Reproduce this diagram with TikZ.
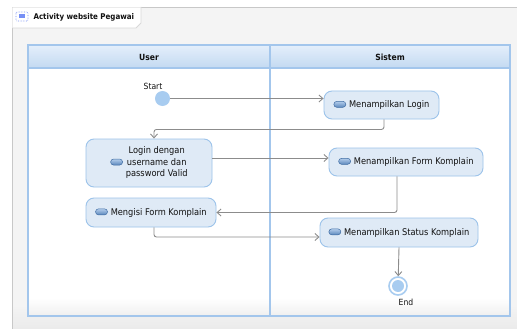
\documentclass[tikz,border=0pt]{standalone}
\usepackage{fontspec}
\setmainfont{DejaVu Sans Condensed}
\usetikzlibrary{arrows.meta,calc}
\definecolor{nodefill}{HTML}{DFEAF6}
\definecolor{nodeborder}{HTML}{9CC3EA}
\definecolor{lane}{HTML}{A3C6EC}
\definecolor{hdtop}{HTML}{E4EFFB}
\definecolor{hdbot}{HTML}{C3D9F1}
\definecolor{framegray}{HTML}{F4F4F4}
\definecolor{frameline}{HTML}{C8C8C8}
\definecolor{flowgray}{HTML}{8C8C8C}
\definecolor{startblue}{HTML}{A8CCF0}
\definecolor{icontop}{HTML}{B3CDEB}
\definecolor{iconbot}{HTML}{5A86BC}
\definecolor{iconline}{HTML}{3F6CA3}
\definecolor{txt}{HTML}{111111}
\newcommand{\acticon}{\tikz[baseline={(0pt,-3.2pt)}]\draw[iconline,top color=icontop,bottom color=iconbot,rounded corners=3pt,line width=0.5pt] (0pt,-3pt) rectangle (12pt,3pt);}
\tikzset{
  act/.style={draw=nodeborder, fill=nodefill, rounded corners=8pt, line width=0.9pt, inner sep=1pt, align=center, text=txt, font=\fontsize{9.2}{11.5}\selectfont},
  hdr/.style={text=txt, font=\bfseries\fontsize{8.5}{10}\selectfont},
  lbl/.style={text=txt, font=\fontsize{8.5}{10}\selectfont},
  flow/.style={draw=flowgray, line width=0.9pt, -{Straight Barb[length=4pt,width=7pt]}, rounded corners=2.5pt},
}
\begin{document}
\begin{tikzpicture}[x=1pt,y=-1pt]
\useasboundingbox (0,0) rectangle (517,329);
\fill[white] (0,0) rectangle (517,329);
% frame
\fill[framegray] (12,7) rectangle (517,329);
\shade[top color=framegray, bottom color=black!8] (12,305) rectangle (517,329);
\draw[frameline, line width=0.8pt] (12,329) -- (12,7) -- (517,7);
\fill[white] (12.4,7.4) -- (141,7.4) -- (141,23) -- (136,28) -- (12.4,28) -- cycle;
\draw[frameline!70, line width=0.8pt] (12.4,28) -- (136,28) -- (141,23) -- (141,7);
% title icon
\draw[startblue!70!blue, densely dotted, rounded corners=1pt, line width=0.6pt] (16,12) rectangle (28,21);
\fill[startblue!70!blue] (19,14.5) rectangle (25,18.5);
\node[hdr, anchor=west, font=\bfseries\fontsize{7.9}{10}\selectfont] (title) at (30,17) {Activity website Pegawai};
% swimlanes
\fill[white] (28,45) rectangle (510,316);
\shade[top color=white, bottom color=black!6] (28,298) rectangle (510,316);
\shade[top color=hdtop, bottom color=hdbot] (28,45) rectangle (510,68);
\draw[lane, line width=1.3pt] (28,45) rectangle (510,316);
\draw[lane, line width=1.3pt] (28,68) -- (510,68);
\draw[lane, line width=1.3pt] (270,45) -- (270,316);
\node[hdr] (userhdr) at (149,57) {User};
\node[hdr] (sistemhdr) at (390,57) {Sistem};
% nodes
\node[circle, fill=startblue, minimum size=15pt, inner sep=0pt] (start) at (162.5,98.5) {};
\node[lbl] (startlbl) at (153,86) {Start};
\node[act, minimum width=115pt, minimum height=28pt] (mlogin) at (381.5,105) {\acticon\hspace{3pt}Menampilkan Login};
\node[act, minimum width=126pt, minimum height=48pt] (login) at (149,163) {\acticon\hspace{3pt}\begin{tabular}{@{}c@{}}Login dengan\\username dan\\password Valid\end{tabular}};
\node[act, minimum width=154pt, minimum height=28pt] (form) at (406,162) {\acticon\hspace{3pt}Menampilkan Form Komplain};
\node[act, minimum width=130pt, minimum height=29pt] (mengisi) at (151,212.5) {\acticon\hspace{3pt}Mengisi Form Komplain};
\node[act, minimum width=158pt, minimum height=29pt] (status) at (399,232.5) {\acticon\hspace{3pt}Menampilkan Status Komplain};
\node[circle, draw=startblue, line width=1.6pt, fill=white, minimum size=18pt, inner sep=0pt] (end) at (398,286) {};
\node[circle, fill=startblue, minimum size=12pt, inner sep=0pt] (endin) at (end) {};
\node[lbl] (endlbl) at (406,302) {End};
% connectors
\coordinate (a) at ([yshift=5pt]login.east);
\coordinate (b) at ([yshift=-4.5pt]status.west);
\draw[flow] (start) -- (start -| mlogin.west);
\draw[flow] ([xshift=2.5pt]mlogin.south) -- ++(0,10) -| ([xshift=5pt]login.north);
\draw[flow] (a) -- (a -| form.west);
\draw[flow] ([xshift=-9pt]form.south) |- (mengisi.east);
\draw[flow] ([xshift=3pt]mengisi.south) |- (b);
\draw[flow] (status.south) -- (end);
\end{tikzpicture}
\end{document}
